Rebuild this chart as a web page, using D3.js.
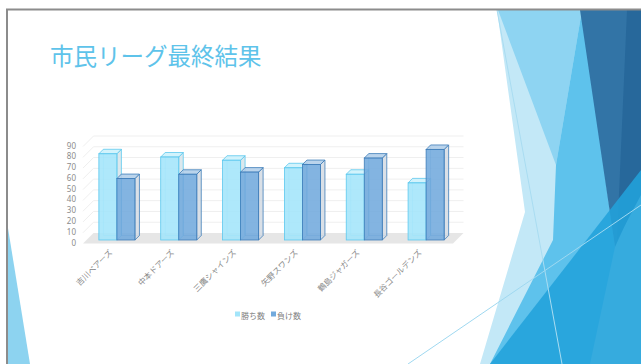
<!DOCTYPE html>
<meta charset='utf-8'>
<body style="margin:0;background:#fff">
<script src='https://d3js.org/d3.v7.min.js'></script>
<script>

var teams = ['吉川ベアーズ', '中本ドアーズ', '三鷹シャインズ', '矢野スワンズ', '鶴島ジャガーズ', '長谷ゴールデンズ'];
var wins = [80, 77, 74, 67, 61, 53];
var losses = [57, 61, 63, 70, 76, 84];
var seriesNames = ['勝ち数', '負け数'];
var ticks = [0, 10, 20, 30, 40, 50, 60, 70, 80, 90];

var W = 641, H = 364;
var jp = '"Noto Sans CJK JP", "Noto Sans", sans-serif';

var svg = d3.select('body').append('svg')
    .attr('width', W).attr('height', H)
    .style('display', 'block');

svg.append('rect').attr('width', W).attr('height', H).attr('fill', '#fff');

// slide background shapes
var deco = [
    { c: '#c3e8f7', p: [[497,10],[641,10],[641,364],[480,364],[525,212]] },
    { c: '#8ed4f2', p: [[498,10],[582,10],[556,165]] },
    { c: '#5ec2ec', p: [[582,10],[615,247],[590,364],[490,364],[553,240],[556,165]] },
    { c: '#3274a6', p: [[580,10],[641,10],[641,190],[615,247]] },
    { c: '#27689b', p: [[627,10],[641,10],[641,195],[617,240]] },
    { c: '#22a2db', p: [[490,364],[641,170],[641,364]], o: 0.88 },
    { c: '#8dd3f0', p: [[7,222],[30,364],[7,364]] }
];
svg.selectAll('polygon.deco').data(deco).enter().append('polygon')
    .attr('class', 'deco')
    .attr('points', function(d) { return d.p.join(' '); })
    .attr('fill', function(d) { return d.c; })
    .attr('fill-opacity', function(d) { return d.o || 1; });

svg.append('line').attr('x1', 497).attr('y1', 10).attr('x2', 562).attr('y2', 364)
    .attr('stroke', '#a9dcf1').attr('stroke-width', 1);
svg.append('line').attr('x1', 408).attr('y1', 364).attr('x2', 641).attr('y2', 205)
    .attr('stroke', '#9fd8f0').attr('stroke-width', 1);

// window frame
svg.append('path').attr('d', 'M7,364 V9.5 H641')
    .attr('fill', 'none').attr('stroke', '#8c8c8c').attr('stroke-width', 2);

// title
svg.append('text')
    .attr('x', 50).attr('y', 65)
    .attr('font-family', jp).attr('font-size', 23.5)
    .attr('fill', '#5ec3ea')
    .text('市民リーグ最終結果');

// ---- 3D column chart ----
var x0 = 83, x1 = 453, yBase = 243.5, floorDepth = 10.5;
var zf = 3.5, zb = 8;   // bar depth band

var x = d3.scaleBand().domain(teams).range([x0, x1])
    .paddingInner(0.417).paddingOuter(0.2);
var xs = d3.scaleBand().domain([0, 1]).range([0, x.bandwidth()]);
var h = d3.scaleLinear().domain([0, 90]).range([0, 97]);

var chart = svg.append('g');

// floor
chart.append('polygon')
    .attr('points', [[x0, yBase], [x1, yBase], [x1 + floorDepth, yBase - floorDepth], [x0 + floorDepth, yBase - floorDepth]].join(' '))
    .attr('fill', '#e6e6e6');

// gridlines on back wall and left wall
chart.selectAll('path.grid').data(ticks.slice(1)).enter().append('path')
    .attr('class', 'grid')
    .attr('d', function(d) {
        var yb = yBase - floorDepth - h(d), yf = yBase - h(d);
        return 'M' + x0 + ',' + yf + ' L' + (x0 + floorDepth) + ',' + yb + ' H' + (x1 + floorDepth);
    })
    .attr('fill', 'none').attr('stroke', '#efefef').attr('stroke-width', 1);

// y labels
chart.selectAll('text.ytick').data(ticks).enter().append('text')
    .attr('class', 'ytick')
    .attr('x', 76)
    .attr('y', function(d) { return 242.5 - h(d) + 3; })
    .attr('text-anchor', 'end')
    .attr('font-family', '"Noto Sans", sans-serif').attr('font-size', 8)
    .attr('fill', '#8c8c8c')
    .text(function(d) { return d; });

var styles = [
    { front: '#a3e5fa', top: '#cdf2fc', side: '#d6e4ea', stroke: '#5cc8ee' },
    { front: '#72aadd', top: '#b3cfea', side: '#d3dbe3', stroke: '#3f7db9' }
];

function box(g, bx, w, hh, st) {
    var d = zb - zf;
    var xf = bx + zf, yB = yBase - zf, yT = yB - hh;
    // back edges (visible through)
    g.append('path')
        .attr('d', 'M' + (xf + d) + ',' + (yB - d) + ' V' + (yT - d) + ' M' + (xf + d) + ',' + (yB - d) + ' H' + (xf + w + d))
        .attr('fill', 'none').attr('stroke', st.stroke).attr('stroke-opacity', 0.5).attr('stroke-width', 0.8);
    g.append('polygon')
        .attr('points', [[xf + w, yB], [xf + w, yT], [xf + w + d, yT - d], [xf + w + d, yB - d]].join(' '))
        .attr('fill', st.side).attr('fill-opacity', 0.85)
        .attr('stroke', st.stroke).attr('stroke-width', 0.8);
    g.append('polygon')
        .attr('points', [[xf, yT], [xf + w, yT], [xf + w + d, yT - d], [xf + d, yT - d]].join(' '))
        .attr('fill', st.top).attr('fill-opacity', 0.9)
        .attr('stroke', st.stroke).attr('stroke-width', 0.8);
    g.append('rect')
        .attr('x', xf).attr('y', yT).attr('width', w).attr('height', hh)
        .attr('fill', st.front).attr('fill-opacity', 0.88)
        .attr('stroke', st.stroke).attr('stroke-width', 0.8);
}

teams.forEach(function(t, i) {
    var g = chart.append('g');
    [wins[i], losses[i]].forEach(function(v, s) {
        box(g, x(t) + xs(s), xs.bandwidth(), h(v), styles[s]);
    });
});

// category labels
chart.selectAll('text.cat').data(teams).enter().append('text')
    .attr('class', 'cat')
    .attr('text-anchor', 'end')
    .attr('transform', function(d) {
        return 'translate(' + (x(d) + x.bandwidth() / 2 + zf - 4) + ',253) rotate(-45)';
    })
    .attr('font-family', jp).attr('font-size', 8)
    .attr('fill', '#888888')
    .text(function(d) { return d; });

// legend
var legendX = [235, 271];
var legend = svg.selectAll('g.legend').data(seriesNames).enter().append('g')
    .attr('class', 'legend')
    .attr('transform', function(d, i) { return 'translate(' + legendX[i] + ',316)'; });
legend.append('rect')
    .attr('x', 0).attr('y', -4.5).attr('width', 5).attr('height', 5)
    .attr('fill', function(d, i) { return styles[i].front; });
legend.append('text')
    .attr('x', 6).attr('y', 0.5).attr('dominant-baseline', 'middle')
    .attr('font-family', jp).attr('font-size', 8)
    .attr('fill', '#7f7f7f')
    .text(function(d) { return d; });

</script>
</body>
